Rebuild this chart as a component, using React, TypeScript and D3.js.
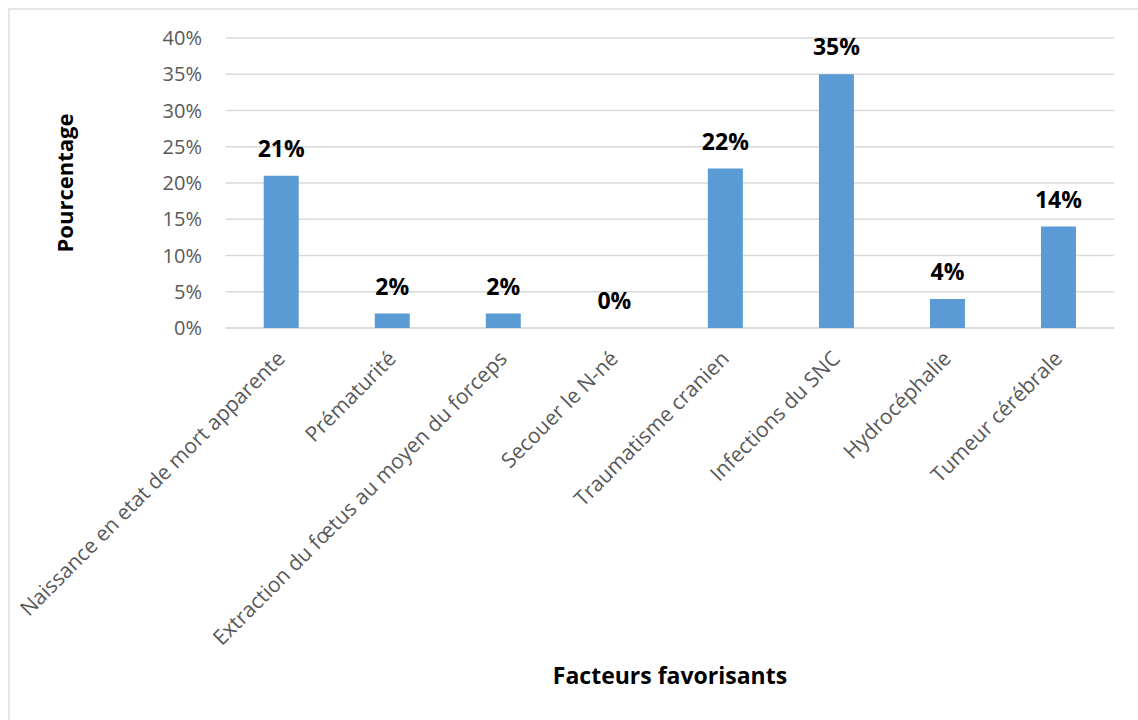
import React from "react";
import * as d3 from "d3";

const categories = [
  "Naissance en etat de mort apparente",
  "Prématurité",
  "Extraction du fœtus au moyen du forceps",
  "Secouer le N-né",
  "Traumatisme cranien",
  "Infections du SNC",
  "Hydrocéphalie",
  "Tumeur cérébrale",
];
const values = [21, 2, 2, 0, 22, 35, 4, 14];
const yTicks = [0, 5, 10, 15, 20, 25, 30, 35, 40];
const yTitle = "Pourcentage";
const xTitle = "Facteurs favorisants";

export default function App() {
  const W = 1138, H = 720;
  const left = 225.7, right = 1114, top = 38, bottom = 328;
  const x = d3.scaleBand<string>().domain(categories).range([left, right]).paddingInner(0.685).paddingOuter(0.3425);
  const xc = d3.scaleBand<string>().domain(categories).range([left, right]);
  const y = d3.scaleLinear().domain([0, 40]).range([bottom, top]);
  const font = "'Open Sans', sans-serif";
  return (
    <svg width={W} height={H} style={{ position: "absolute", left: 0, top: 0 }}>
      <rect x={0} y={0} width={W} height={H} fill="#fff" />
      <rect x={9} y={9} width={1140} height={720} fill="#fff" stroke="#d9d9d9" strokeWidth={1.3} />
      {yTicks.map((t) => (
        <g key={t}>
          <line x1={left} x2={right} y1={y(t)} y2={y(t)} stroke={t === 0 ? "#d0d0d0" : "#d9d9d9"} strokeWidth={1.3} />
          <text x={202} y={y(t)} dy="0.36em" textAnchor="end" fontFamily={font} fontSize={20} fill="#595959">
            {t}%
          </text>
        </g>
      ))}
      {categories.map((c, i) => {
        const bx = x(c)!;
        const bw = x.bandwidth();
        const cx = xc(c)! + xc.bandwidth() / 2;
        return (
          <g key={c}>
            {values[i] > 0 && (
              <rect x={bx} y={y(values[i])} width={bw} height={y(0) - y(values[i])} fill="#5b9bd5" />
            )}
            <text x={cx} y={y(values[i]) - 19} textAnchor="middle" fontFamily={font} fontWeight="bold" fontSize={23} fill="#000">
              {values[i]}%
            </text>
            <text
              transform={`translate(${cx + 5},${bottom + 32}) rotate(-45)`}
              textAnchor="end"
              fontFamily={font}
              fontSize={21}
              fill="#595959"
            >
              {c}
            </text>
          </g>
        );
      })}
      <text transform={`translate(73,183) rotate(-90)`} textAnchor="middle" fontFamily={font} fontWeight="bold" fontSize={22} fill="#000">
        {yTitle}
      </text>
      <text x={670} y={684} textAnchor="middle" fontFamily={font} fontWeight="bold" fontSize={23} fill="#000">
        {xTitle}
      </text>
    </svg>
  );
}
